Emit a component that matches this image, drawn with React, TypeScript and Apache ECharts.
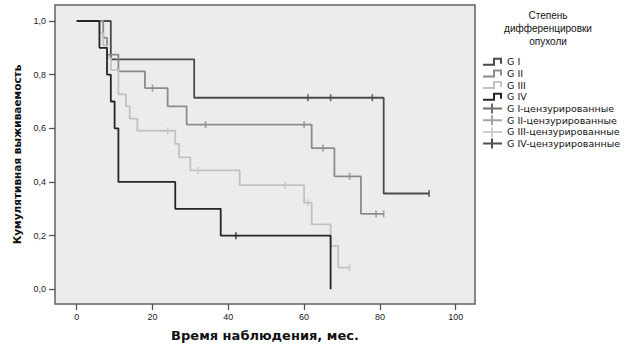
import React, { useEffect, useRef } from "react";
import * as echarts from "echarts";

// Kaplan–Meier step points [time, survival]
const gI: [number, number][] = [[0, 1], [9, 0.857], [31, 0.714], [81, 0.357], [93, 0.357]];
const gII: [number, number][] = [
  [0, 1], [7, 0.9375], [8, 0.875], [11, 0.8125], [18, 0.75], [24, 0.682], [29, 0.614],
  [62, 0.526], [68, 0.421], [75, 0.281], [81, 0.281],
];
const gIII: [number, number][] = [
  [0, 1], [6, 0.955], [7, 0.909], [8, 0.864], [9, 0.818], [11, 0.727], [13, 0.682],
  [14, 0.636], [16, 0.591], [26, 0.542], [27, 0.492], [30, 0.443], [43, 0.388],
  [60, 0.323], [62, 0.242], [67, 0.162], [69, 0.081], [72, 0.081],
];
const gIV: [number, number][] = [
  [0, 1], [6, 0.9], [8, 0.8], [9, 0.7], [10, 0.6], [11, 0.4], [26, 0.3], [38, 0.2], [67, 0],
];

// Censored observations [time, survival]
const cI: [number, number][] = [[61, 0.714], [67, 0.714], [78, 0.714], [93, 0.357]];
const cII: [number, number][] = [[20, 0.75], [34, 0.614], [60, 0.614], [65, 0.526], [72, 0.421], [79, 0.281], [81, 0.281]];
const cIII: [number, number][] = [[24, 0.591], [32, 0.443], [55, 0.388], [61, 0.323], [72, 0.081]];
const cIV: [number, number][] = [[42, 0.2]];

const groupNames = ["G I", "G II", "G III", "G IV"];
const censorNames = ["G I-цензурированные", "G II-цензурированные", "G III-цензурированные", "G IV-цензурированные"];
const colors = ["#4a4a4a", "#8c8c8c", "#c2c2c2", "#262626"];

const xTicks = [0, 20, 40, 60, 80, 100];
const yTicks = [0, 0.2, 0.4, 0.6, 0.8, 1.0];

const stepIcon = "path://M0,6 L10,6 L10,0 L19,0 L19,6 L17,6 L17,2 L12,2 L12,8 L0,8 Z";
const crossIcon = "path://M0,4 L8,4 L8,0 L10,0 L10,4 L19,4 L19,6 L10,6 L10,10 L8,10 L8,6 L0,6 Z";

export default function App() {
  const ref = useRef<HTMLDivElement>(null);
  useEffect(() => {
    if (!ref.current) return;
    const chart = echarts.init(ref.current, undefined, { renderer: "svg" });
    const lines = [gI, gII, gIII, gIV];
    const cens = [cI, cII, cIII, cIV];
    const font = "Arial, 'Liberation Sans', sans-serif";
    const wide = "'DejaVu Sans', Verdana, sans-serif";
    const series: any[] = [];
    lines.forEach((d, i) => {
      series.push({
        name: groupNames[i],
        type: "line",
        step: "end",
        data: d,
        symbol: "none",
        color: colors[i],
        lineStyle: { color: colors[i], width: 1.8 },
        z: 2 + i,
      });
    });
    cens.forEach((d, i) => {
      series.push({
        name: censorNames[i],
        type: "scatter",
        data: d,
        symbol: "rect",
        symbolSize: [1.6, 7],
        color: colors[i],
        itemStyle: { color: colors[i] },
        z: 10,
      });
    });
    chart.setOption({
      animation: false,
      backgroundColor: "#ffffff",
      textStyle: { fontFamily: font },
      grid: {
        left: 55,
        top: 5,
        right: 157,
        bottom: 45,
        show: true,
        backgroundColor: "#ececec",
        borderColor: "#606060",
        borderWidth: 1.5,
      },
      xAxis: {
        type: "value",
        min: -5.73,
        max: 105.1,
        name: "Время наблюдения, мес.",
        nameLocation: "middle",
        nameGap: 25,
        nameTextStyle: { fontSize: 13, fontWeight: "bold", color: "#111", fontFamily: wide },
        axisLine: { show: false, onZero: false },
        axisTick: { show: true, customValues: xTicks, length: 6, lineStyle: { color: "#555", width: 1.3 } },
        axisLabel: { customValues: xTicks, fontSize: 9, color: "#222", margin: 8, fontFamily: font },
        splitLine: { show: false },
      },
      yAxis: {
        type: "value",
        min: -0.0548,
        max: 1.0596,
        name: "Кумулятивная выживаемость",
        nameLocation: "middle",
        nameGap: 30,
        nameTextStyle: { fontSize: 10.5, fontWeight: "bold", color: "#111", fontFamily: wide },
        axisLine: { show: false, onZero: false },
        axisTick: { show: true, customValues: yTicks, length: 6, lineStyle: { color: "#555", width: 1.3 } },
        axisLabel: {
          customValues: yTicks,
          fontSize: 9,
          color: "#222",
          margin: 9,
          fontFamily: font,
          formatter: (v: number) => v.toFixed(1).replace(".", ","),
        },
        splitLine: { show: false },
      },
      legend: {
        orient: "vertical",
        left: 478,
        top: 51.7,
        itemWidth: 19,
        itemHeight: 10,
        itemGap: 1.7,
        itemStyle: { borderWidth: 0 },
        textStyle: { fontSize: 9.5, color: "#111", lineHeight: 10, fontFamily: wide },
        data: [
          ...groupNames.map((n) => ({ name: n, icon: stepIcon })),
          ...censorNames.map((n) => ({ name: n, icon: crossIcon })),
        ],
      },
      graphic: [
        {
          type: "text",
          x: 548,
          y: 9,
          style: {
            text: "Степень\nдифференцировки\nопухоли",
            textAlign: "center",
            textVerticalAlign: "top",
            fontSize: 10,
            lineHeight: 12.8,
            fill: "#111",
            fontFamily: font,
          },
        },
      ],
      series,
    });
    return () => chart.dispose();
  }, []);
  return <div ref={ref} style={{ position: "fixed", left: 0, top: 0, width: 632, height: 349 }} />;
}
